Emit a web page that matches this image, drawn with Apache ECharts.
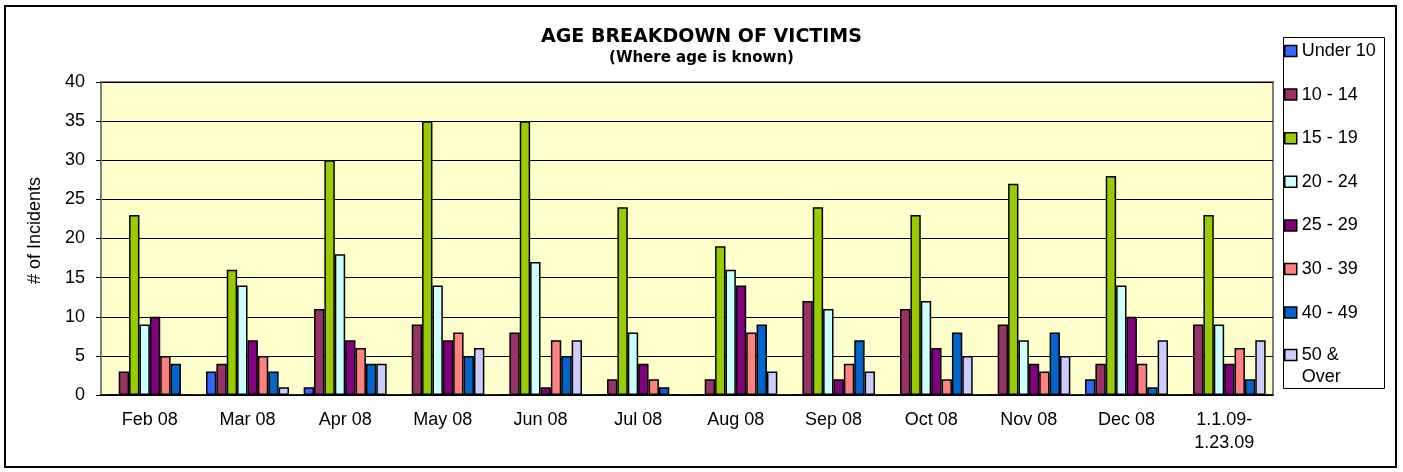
<!DOCTYPE html>
<html>
<head>
<meta charset="utf-8">
<title>Age breakdown of victims</title>
<script src="https://cdn.jsdelivr.net/npm/echarts@6.0.0/dist/echarts.min.js"></script>
<style>
  html, body { margin: 0; padding: 0; background: #fff; }
  #chart { width: 1403px; height: 472px; }
</style>
</head>
<body>
<div id="chart"></div>
<script>
// categories (months) and age groups
const months = ['Feb 08', 'Mar 08', 'Apr 08', 'May 08', 'Jun 08', 'Jul 08', 'Aug 08',
  'Sep 08', 'Oct 08', 'Nov 08', 'Dec 08', '1.1.09-\n1.23.09']
const ageGroups = ['Under 10', '10 - 14', '15 - 19', '20 - 24', '25 - 29', '30 - 39', '40 - 49', '50 & Over']

// incidents per age group, one value per month
const under10 = [0, 3, 1, 0, 0, 0, 0, 0, 0, 0, 2, 0]
const age10to14 = [3, 4, 11, 9, 8, 2, 2, 12, 11, 9, 4, 9]
const age15to19 = [23, 16, 30, 35, 35, 24, 19, 24, 23, 27, 28, 23]
const age20to24 = [9, 14, 18, 14, 17, 8, 16, 11, 12, 7, 14, 9]
const age25to29 = [10, 7, 7, 7, 1, 4, 14, 2, 6, 4, 10, 4]
const age30to39 = [5, 5, 6, 8, 7, 2, 8, 4, 2, 3, 4, 6]
const age40to49 = [4, 3, 4, 5, 5, 1, 9, 7, 8, 8, 1, 2]
const age50plus = [0, 1, 4, 6, 7, 0, 3, 3, 5, 5, 7, 7]

const yTicks = { min: 0, max: 40, step: 5 }

const groupValues = [under10, age10to14, age15to19, age20to24, age25to29, age30to39, age40to49, age50plus]
const colors = ['#3366FF', '#993366', '#99CC00', '#CCFFFF', '#800080', '#FF8080', '#0066CC', '#CCCCFF']
const font = 'Liberation Sans, Arial, sans-serif'
const titleFont = 'DejaVu Sans, Verdana, sans-serif'

// shared legend look; the last entry wraps onto two lines so it gets its own legend
const legendBase = {
  orient: 'vertical',
  left: 1284,
  itemWidth: 12,
  itemHeight: 11,
  itemGap: 21.6,
  icon: 'rect',
  padding: 0,
  itemStyle: { borderColor: '#000', borderWidth: 1.5 },
  textStyle: { fontFamily: font, fontSize: 18, color: '#000', lineHeight: 22 },
}

const option = {
  color: colors,
  animation: false,
  graphic: [
    {
      type: 'rect',
      shape: { x: 5, y: 6, width: 1391, height: 461 },
      style: { fill: 'none', stroke: '#000', lineWidth: 2 },
      silent: true,
    },
    {
      // legend frame
      type: 'rect',
      shape: { x: 1283.5, y: 37.5, width: 101, height: 351 },
      style: { fill: '#fff', stroke: '#000', lineWidth: 1 },
      silent: true,
    },
  ],
  title: [
    {
      text: 'AGE BREAKDOWN OF VICTIMS',
      left: 'center',
      top: 23,
      textStyle: { fontFamily: titleFont, fontSize: 19, fontWeight: 'bold', color: '#000' },
    },
    {
      text: '(Where age is known)',
      left: 'center',
      top: 46,
      textStyle: { fontFamily: titleFont, fontSize: 15, fontWeight: 'bold', color: '#000' },
    },
  ],
  legend: [
    Object.assign({}, legendBase, {
      top: 40,
      data: ageGroups.slice(0, 7),
    }),
    Object.assign({}, legendBase, {
      top: 322,
      data: [ageGroups[7]],
      // leading blank line keeps "50 &" level with the swatch
      formatter: () => '\n50 &\nOver',
    }),
  ],
  grid: {
    left: 101,
    top: 82,
    right: 130,
    bottom: 77,
    show: true,
    backgroundColor: '#FFFFCC',
    borderColor: '#808080',
    borderWidth: 2,
  },
  xAxis: {
    type: 'category',
    data: months,
    axisLine: { lineStyle: { color: '#000', width: 1.5 } },
    axisTick: { length: 5, lineStyle: { color: '#000' } },
    axisLabel: {
      fontFamily: font,
      fontSize: 18,
      color: '#000',
      margin: 14,
      lineHeight: 23,
      interval: 0,
    },
  },
  yAxis: {
    type: 'value',
    min: yTicks.min,
    max: yTicks.max,
    interval: yTicks.step,
    name: '# of Incidents',
    nameLocation: 'middle',
    nameRotate: 90,
    nameGap: 57,
    nameTextStyle: { fontFamily: font, fontSize: 18, color: '#000', padding: [0, 0, 0, 16] },
    axisLine: { show: true, lineStyle: { color: '#808080', width: 2 } },
    axisTick: { show: true, length: 5, lineStyle: { color: '#000' } },
    axisLabel: { fontFamily: font, fontSize: 18, color: '#000', margin: 16 },
    splitLine: { lineStyle: { color: '#000', width: 1 } },
  },
  series: ageGroups.map((name, i) => ({
    name,
    type: 'bar',
    data: groupValues[i],
    barGap: '0%',
    barCategoryGap: '15%',
    itemStyle: { borderColor: '#000', borderWidth: 1.5 },
  })),
}

const chart = echarts.init(document.getElementById('chart'))
chart.setOption(option)
</script>
</body>
</html>
